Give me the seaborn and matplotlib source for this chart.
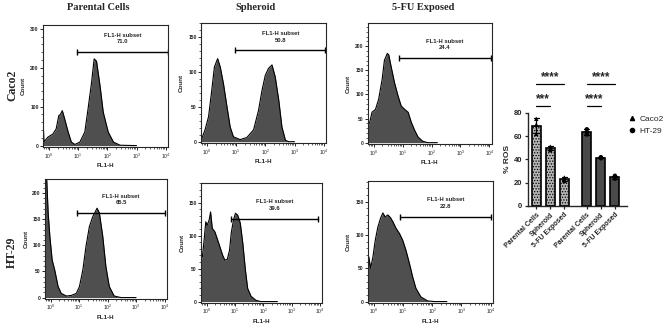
import numpy as np
import pandas as pd
import matplotlib
matplotlib.use('Agg')
import matplotlib.pyplot as plt
import seaborn as sns
from matplotlib.ticker import MultipleLocator, LogLocator, NullFormatter
from matplotlib.lines import Line2D

# ---- flow histograms: log10(FL1-H) and counts ----
caco2_par_lx = [-0.2, -0.17, -0.12, -0.03, 0.14, 0.25, 0.34, 0.40, 0.46, 0.54, 0.66, 0.77, 0.89, 1.06, 1.23,
                1.34, 1.46, 1.55, 1.63, 1.75, 1.86, 2.03, 2.21, 2.44, 3.0]
caco2_par_ct = [75, 10, 14, 22, 30, 43, 77, 81, 90, 69, 35, 9, 3, 9, 35, 94, 162, 223, 217, 154, 86, 35, 9, 1, 0]

caco2_sph_lx = [-0.2, -0.17, -0.06, 0.06, 0.17, 0.26, 0.37, 0.46, 0.57, 0.69, 0.80, 0.91, 1.14, 1.37, 1.6,
                1.77, 1.89, 2.0, 2.11, 2.23, 2.34, 2.46, 2.57, 2.69, 2.8, 3.0]
caco2_sph_ct = [12, 5, 17, 36, 74, 107, 119, 107, 83, 50, 21, 7, 3, 6, 17, 45, 74, 95, 105, 110, 93, 60, 21, 2, 0, 0]

caco2_fu_lx = [-0.2, -0.14, -0.06, 0.06, 0.17, 0.29, 0.37, 0.47, 0.52, 0.60, 0.72, 0.84, 0.95, 1.07, 1.19,
               1.30, 1.42, 1.53, 1.69, 1.86, 2.2]
caco2_fu_ct = [35, 42, 63, 69, 90, 131, 171, 185, 182, 158, 124, 97, 76, 69, 63, 42, 25, 12, 3, 0, 0]

ht29_par_lx = [-0.2, -0.14, -0.09, -0.03, 0.05, 0.14, 0.26, 0.37, 0.55, 0.72, 0.90, 1.01, 1.13, 1.24, 1.36,
               1.48, 1.63, 1.71, 1.83, 1.94, 2.06, 2.23, 2.47, 3.0]
ht29_par_ct = [225, 225, 162, 117, 72, 53, 21, 8, 3, 4, 8, 21, 53, 98, 136, 155, 171, 162, 117, 59, 21, 3, 0, 0]

ht29_sph_lx = [-0.21, -0.15, -0.09, -0.03, 0.02, 0.09, 0.14, 0.20, 0.29, 0.37, 0.47, 0.56, 0.64, 0.73, 0.81,
               0.87, 0.95, 1.02, 1.10, 1.19, 1.28, 1.37, 1.45, 1.57, 1.74, 1.92, 2.5]
ht29_sph_ct = [63, 68, 93, 121, 116, 124, 136, 111, 106, 96, 83, 71, 63, 64, 78, 104, 124, 134, 131, 119, 88,
               48, 20, 8, 2, 0, 0]

ht29_fu_lx = [-0.2, -0.17, -0.11, -0.03, 0.05, 0.14, 0.23, 0.31, 0.39, 0.48, 0.57, 0.65, 0.76, 0.88, 0.99,
              1.10, 1.22, 1.33, 1.44, 1.61, 1.84, 2.07, 2.5]
ht29_fu_ct = [67, 67, 50, 67, 92, 112, 125, 133, 127, 130, 126, 120, 110, 102, 92, 77, 57, 37, 20, 7, 1, 0, 0]

# gate: start (log10), end (log10), height, percentage
gate_start = [0.97, 0.97, 0.87, 0.93, 0.87, 0.90]
gate_end = [4.08, 4.06, 4.05, 4.01, 3.93, 4.02]
gate_y = [240, 131, 175, 162, 126, 127]
gate_pct = ['71.0', '50.8', '24.4', '65.5', '39.6', '22.8']

y_top = [310, 170, 248, 227, 180, 181]
y_step = [100, 50, 50, 50, 50, 50]

col_titles = ['Parental Cells', 'Spheroid', '5-FU Exposed']
row_titles = ['Caco2', 'HT-29']

# ---- % ROS bar chart ----
conditions = ['Parental Cells', 'Spheroid', '5-FU Exposed']
caco2_ros = [[75, 70, 62], [51, 50, 48], [24.5, 23.5, 21.5]]
ht29_ros = [[66, 63.5, 61.5], [42, 41.5, 41], [26, 25, 23.5]]

sns.set_style('ticks')
plt.rcParams['font.family'] = ['Liberation Sans', 'DejaVu Sans']
plt.rcParams['hatch.linewidth'] = 0.6

fig = plt.figure(figsize=(6.69, 3.29), dpi=100)

hist_data = [(caco2_par_lx, caco2_par_ct), (caco2_sph_lx, caco2_sph_ct), (caco2_fu_lx, caco2_fu_ct),
             (ht29_par_lx, ht29_par_ct), (ht29_sph_lx, ht29_sph_ct), (ht29_fu_lx, ht29_fu_ct)]
boxes = [[0.0643, 0.553, 0.187, 0.371], [0.3004, 0.565, 0.187, 0.365], [0.550, 0.562, 0.185, 0.368],
         [0.0673, 0.0912, 0.182, 0.365], [0.3004, 0.079, 0.181, 0.365], [0.550, 0.079, 0.187, 0.371]]

for i, (lx, ct) in enumerate(hist_data):
    ax = fig.add_axes(boxes[i])
    ax.set_xscale('log')
    x = 10 ** np.array(lx)
    ax.fill_between(x, ct, 0, color='#4f4f4f', lw=0)
    sns.lineplot(x=x, y=ct, ax=ax, color='black', lw=0.8)
    ax.plot([10 ** gate_start[i], 10 ** gate_end[i]], [gate_y[i], gate_y[i]], color='black', lw=1,
            marker='|', markersize=5, mew=1)
    xm = 10 ** ((gate_start[i] + gate_end[i]) / 2)
    ax.text(xm, gate_y[i] + y_top[i] * 0.065, gate_pct[i], ha='center', va='bottom', fontsize=4.2,
            fontweight='bold')
    ax.text(xm, gate_y[i] + y_top[i] * 0.12, 'FL1-H subset', ha='center', va='bottom', fontsize=4.2,
            fontweight='bold')
    ax.set_xlim(10 ** -0.2, 10 ** 4.08)
    ax.set_ylim(-y_top[i] * 0.012, y_top[i])
    ax.yaxis.set_major_locator(MultipleLocator(y_step[i]))
    ax.yaxis.set_minor_locator(MultipleLocator(y_step[i] / 5))
    ax.xaxis.set_major_locator(LogLocator(base=10, numticks=10))
    ax.xaxis.set_minor_locator(LogLocator(base=10, subs=np.arange(2, 10), numticks=10))
    ax.xaxis.set_minor_formatter(NullFormatter())
    ax.tick_params(which='major', length=2, width=0.7, labelsize=3.6, pad=1)
    ax.tick_params(which='minor', length=1.2, width=0.5)
    for lab in ax.get_yticklabels():
        lab.set_fontweight('bold')
    ax.set_xlabel('FL1-H', fontsize=4.5, fontweight='bold', labelpad=2)
    ax.set_ylabel('Count', fontsize=4.5, fontweight='bold')
    ax.yaxis.set_label_coords(-0.135, 0.5)
    for s in ax.spines.values():
        s.set_visible(True)
        s.set_linewidth(0.8)

for t, xc in zip(col_titles, [98, 256, 423]):
    fig.text(xc / 669, 1 - 7 / 329, t, ha='center', va='center', fontsize=7.5, fontweight='bold',
             family='Liberation Serif')
for t, yc in zip(row_titles, [85, 252]):
    fig.text(12 / 669, 1 - yc / 329, t, ha='center', va='center', rotation=90, fontsize=8.5,
             fontweight='bold', family='Liberation Serif')

# bar chart
gap = 1.6
rows = []
for g, (cell, reps) in enumerate([('Caco2', caco2_ros), ('HT-29', ht29_ros)]):
    for j, cond in enumerate(conditions):
        for v in reps[j]:
            rows.append({'pos': g * (len(conditions) - 1 + gap) + j, 'cell': cell, 'cond': cond, 'ros': v})
df = pd.DataFrame(rows)

bx = fig.add_axes([0.789, 0.3739, 0.148, 0.4064])
sns.barplot(data=df, x='pos', y='ros', hue='cell', palette={'Caco2': '#b4b4b4', 'HT-29': '#4a4a4a'},
            native_scale=True, dodge=False, width=0.65, errorbar='sd', capsize=0.35,
            err_kws={'color': 'black', 'linewidth': 0.9}, edgecolor='black', linewidth=1.2,
            legend=False, ax=bx)
for p in bx.patches:
    if p.get_x() + p.get_width() / 2 < 3:
        p.set_hatch('......')
sns.scatterplot(data=df, x='pos', y='ros', style='cell', markers={'Caco2': '^', 'HT-29': 'o'},
                color='black', s=10, linewidth=0, legend=False, ax=bx, zorder=5)

positions = sorted(df['pos'].unique())
bx.set_xticks(positions)
bx.set_xticklabels(conditions * 2, rotation=45, ha='right', rotation_mode='anchor', fontsize=5,
                   fontweight='bold')
bx.set_xlim(-0.6, 6.45)
bx.set_ylim(0, 115)
bx.set_yticks([0, 20, 40, 60, 80])
bx.set_yticklabels(['0', '20', '40', '60', '80'], fontsize=5.5, fontweight='bold')
bx.spines['left'].set_bounds(0, 80)
bx.spines['top'].set_visible(False)
bx.spines['right'].set_visible(False)
bx.spines['left'].set_linewidth(1)
bx.spines['bottom'].set_linewidth(1)
bx.tick_params(length=2.5, width=0.9, pad=1.5)
bx.set_xlabel('')
bx.set_ylabel('% ROS', fontsize=6, fontweight='bold')
bx.yaxis.set_label_coords(-0.17, 0.348)

# significance marks
sig = [(positions[0], positions[2], 105, '****'), (positions[3], positions[5], 105, '****'),
       (positions[0], positions[1], 86, '***'), (positions[3], positions[4], 86, '****')]
for x0, x1, yy, txt in sig:
    bx.plot([x0, x1], [yy, yy], color='black', lw=0.9)
    bx.text((x0 + x1) / 2, yy + 0.5, txt, ha='center', va='bottom', fontsize=8.5, fontweight='bold')

handles = [Line2D([], [], marker='^', color='black', ls='', markersize=3),
           Line2D([], [], marker='o', color='black', ls='', markersize=3)]
bx.legend(handles, ['Caco2', 'HT-29'], loc='upper left', bbox_to_anchor=(0.932, 1 - 111 / 329),
          bbox_transform=fig.transFigure, frameon=False, fontsize=6, handletextpad=0.4,
          handlelength=1, labelspacing=0.5, borderpad=0)

fig.savefig('out.png', dpi=100)
